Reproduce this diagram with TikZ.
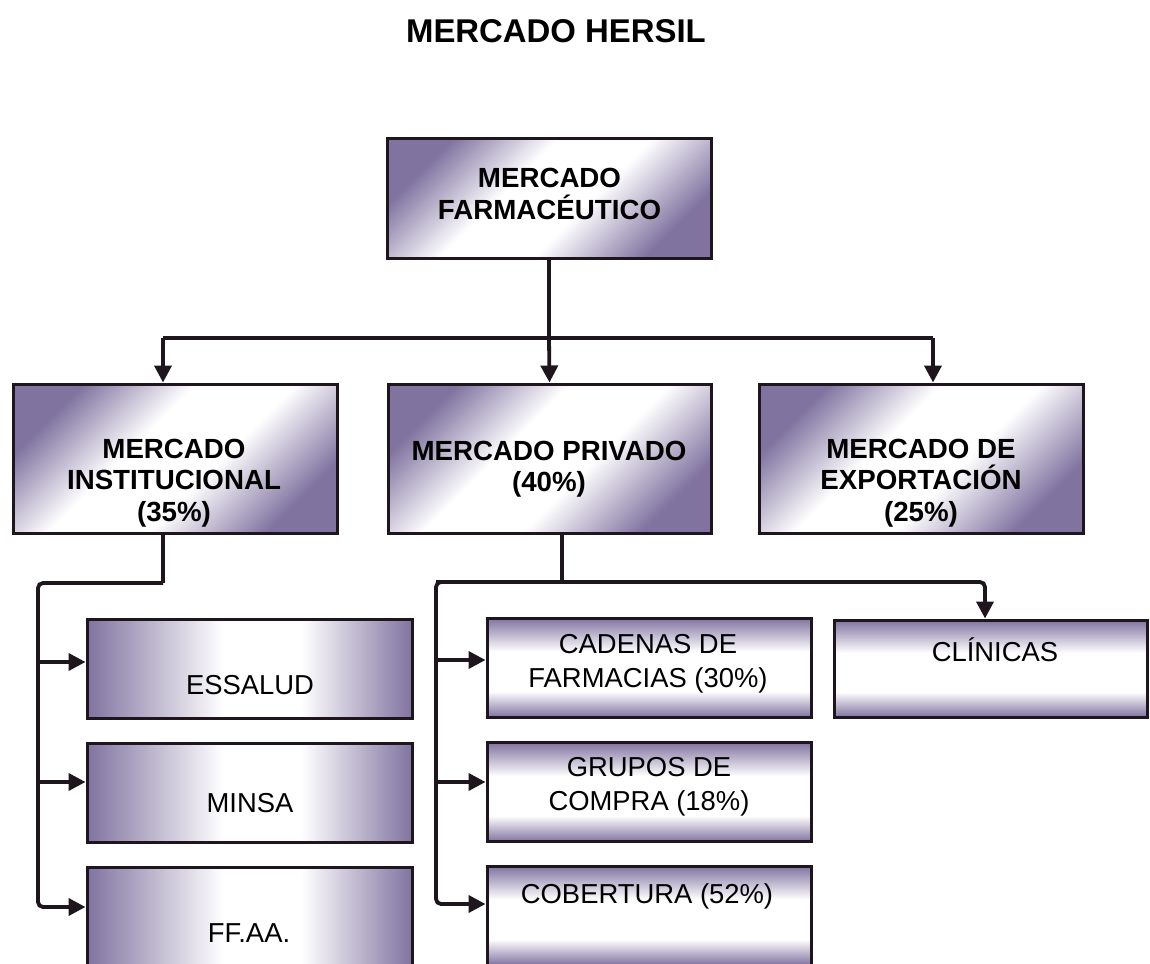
\documentclass[tikz,border=0pt]{standalone}
\usepackage{fontspec}
\setmainfont{Liberation Sans}
\usetikzlibrary{arrows.meta}
\definecolor{lav}{RGB}{128,115,160}
\definecolor{ink}{RGB}{30,22,28}
\pgfdeclareverticalshading{vband}{100bp}{color(0bp)=(lav); color(25bp)=(lav); color(38bp)=(white); color(58bp)=(white); color(75bp)=(lav); color(100bp)=(lav)}
\pgfdeclarehorizontalshading{hband}{100bp}{color(0bp)=(lav); color(25bp)=(lav); color(46bp)=(white); color(58bp)=(white); color(75bp)=(lav); color(100bp)=(lav)}
\pgfdeclareverticalshading{dband}{100bp}{color(0bp)=(lav); color(25bp)=(lav); color(43bp)=(white); color(58bp)=(white); color(75bp)=(lav); color(100bp)=(lav)}
\begin{document}
\begin{tikzpicture}[x=1pt,y=-1pt,
  box/.style={draw=ink, line width=3pt, rectangle, inner sep=0pt},
  diagbox/.style={box, shading=dband, shading angle=45},
  hbox/.style={box, shading=hband},
  vbox/.style={box, shading=vband},
  conn/.style={draw=ink, line width=3.8pt},
  arr/.style={conn, -{Triangle[length=17pt,width=17pt]}},
  bt/.style={font=\fontsize{27.7}{31.5}\selectfont\bfseries, align=center, inner sep=0pt},
  rt/.style={font=\fontsize{27.4}{34}\selectfont, align=center, inner sep=0pt}]
\clip (0,0) rectangle (1150,963);
\fill[white] (0,0) rectangle (1150,963);

\node[font=\fontsize{32.9}{36}\selectfont\bfseries, inner sep=0pt] (title) at (556,31) {MERCADO HERSIL};

% level 1
\node[diagbox, minimum width=324pt, minimum height=120pt] (top) at (549,198) {};
\node[bt] (toptxt) at (549.5,194) {MERCADO\\FARMACÉUTICO};

% level 2
\node[diagbox, minimum width=324pt, minimum height=149pt] (inst) at (175,458.5) {};
\node[bt] (insttxt) at (174,483) {MERCADO\\INSTITUCIONAL\\(35\%)};
\node[diagbox, minimum width=323pt, minimum height=149pt] (priv) at (549.5,458.5) {};
\node[bt] (privtxt) at (549,469) {MERCADO PRIVADO\\(40\%)};
\node[diagbox, minimum width=324pt, minimum height=149pt] (expo) at (921,458.5) {};
\node[bt] (expotxt) at (921,483) {MERCADO DE\\EXPORTACIÓN\\(25\%)};

% level 3 left
\node[hbox, minimum width=325pt, minimum height=99pt] (essalud) at (249.5,668.5) {};
\node[rt] (essaludtxt) at (250,685) {ESSALUD};
\node[hbox, minimum width=325pt, minimum height=99pt] (minsa) at (249.5,792.5) {};
\node[rt] (minsatxt) at (250,803) {MINSA};
\node[hbox, minimum width=325pt, minimum height=99pt] (ffaa) at (249.5,916.5) {};
\node[rt] (ffaatxt) at (249,933) {FF.AA.};

% level 3 middle
\node[vbox, minimum width=324pt, minimum height=99pt] (cad) at (649,667.5) {};
\node[rt] (cadtxt) at (648,664) {CADENAS DE\\FARMACIAS (30\%)};
\node[vbox, minimum width=324pt, minimum height=99pt] (gru) at (649,792) {};
\node[rt] (grutxt) at (649,787) {GRUPOS DE\\COMPRA (18\%)};
\node[vbox, minimum width=324pt, minimum height=99pt] (cob) at (649,915.5) {};
\node[rt] (cobtxt) at (647,896) {COBERTURA (52\%)};

% clinicas
\node[vbox, minimum width=313pt, minimum height=97pt] (clin) at (990.5,668.5) {};
\node[rt] (clintxt) at (995,650) {CLÍNICAS};

% connectors level 1 -> 2
\coordinate (busL) at (163,338);
\coordinate (busR) at (933,338);
\draw[conn] (top.south) -- (top.south |- busL);
\draw[conn] (busL) -- (busR);
\draw[arr] (busL) -- (busL |- inst.north);
\draw[arr] (top.south |- busL) -- (priv.north);
\draw[arr] (busR) -- (busR |- expo.north);

% institutional subtree
\coordinate (i1) at (163,583);
\coordinate (i2) at (38,583);
\draw[conn] (i1 |- inst.south) -- (i1);
\draw[arr, rounded corners=5pt] (i1) -- (i2) -- (38,907) -- (ffaa.west |- 38,907);
\draw[arr] (38,662) -- (essalud.west |- 38,662);
\draw[arr] (38,782) -- (minsa.west |- 38,782);

% private subtree
\coordinate (p1) at (562,582);
\coordinate (p2) at (436,582);
\coordinate (p3) at (985,582);
\draw[conn] (p1 |- priv.south) -- (p1);
\draw[arr, rounded corners=5pt] (p1) -- (p2) -- (436,904) -- (cob.west |- 436,904);
\draw[arr, rounded corners=5pt] (p2) -- (p3) -- (p3 |- clin.north);
\draw[arr] (436,660) -- (cad.west |- 436,660);
\draw[arr] (436,782) -- (gru.west |- 436,782);
\end{tikzpicture}
\end{document}
